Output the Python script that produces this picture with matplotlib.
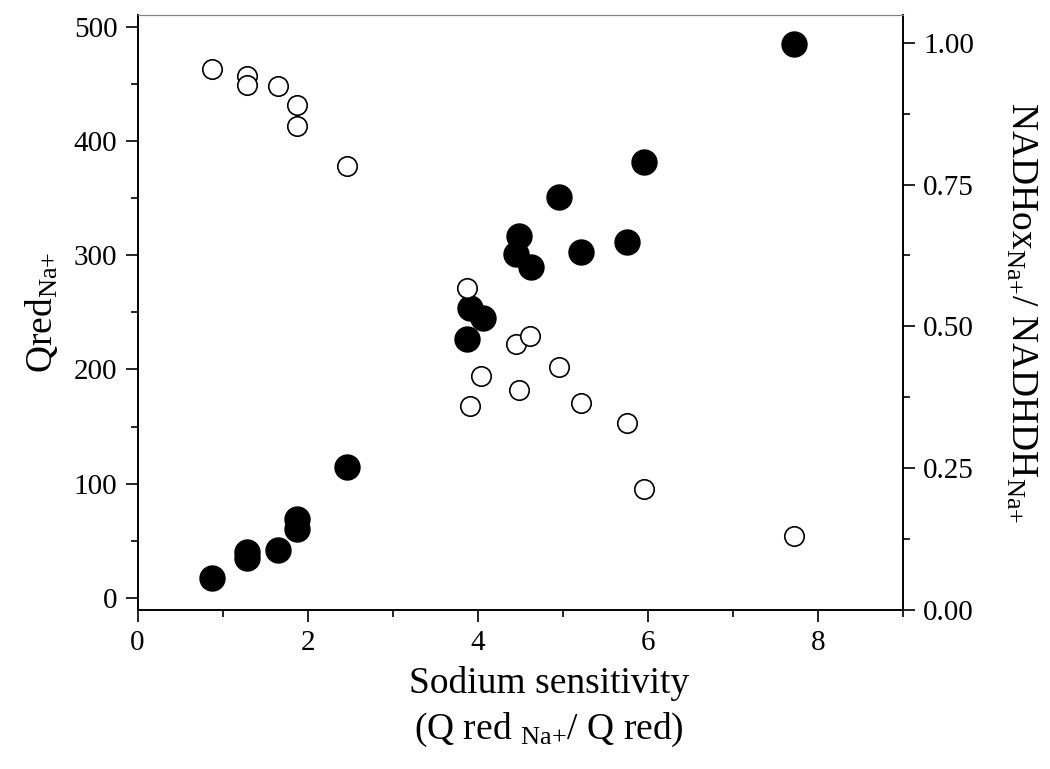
import numpy as np
import matplotlib
matplotlib.use("Agg")
import matplotlib.pyplot as plt
from matplotlib.ticker import MultipleLocator

plt.rcParams['font.family'] = ['Liberation Serif', 'DejaVu Serif']
plt.rcParams['mathtext.fontset'] = 'custom'
plt.rcParams['mathtext.rm'] = 'Liberation Serif'
plt.rcParams['mathtext.it'] = 'Liberation Serif'

# sodium sensitivity (x), shared by both series
sens = [0.88, 1.29, 1.29, 1.65, 1.87, 1.87, 2.46, 3.87, 3.91, 4.06,
        4.45, 4.49, 4.63, 4.95, 5.21, 5.75, 5.95, 7.72]
# Qred Na+ (left axis, filled)
qred = [17, 40, 35, 42, 69, 60, 115, 227, 254, 245,
        301, 317, 290, 351, 303, 312, 382, 485]
# NADHox / NADHDH ratio (right axis, open), same x order
sens_r = [0.88, 1.29, 1.29, 1.65, 1.87, 1.87, 2.46, 3.87, 3.91, 4.04,
          4.45, 4.49, 4.62, 4.95, 5.21, 5.75, 5.95, 7.72]
ratio = [0.954, 0.941, 0.925, 0.924, 0.890, 0.854, 0.783, 0.567, 0.359, 0.412,
         0.469, 0.387, 0.483, 0.428, 0.364, 0.329, 0.213, 0.130]

fig = plt.figure(figsize=(10.5, 7.69), dpi=100)
ax = fig.add_axes([0.131, 0.207, 0.729, 0.7735])
ax2 = ax.twinx()

ax.plot(sens, qred, 'o', color='black', markersize=18, zorder=3)
ax2.plot(sens_r, ratio, 'o', markerfacecolor='white', markeredgecolor='black',
         markersize=14, markeredgewidth=1.2)

ax.set_xlim(0, 9)
ax.set_ylim(-10.5, 510.5)
ax2.set_ylim(0, 1.049)

ax.xaxis.set_major_locator(MultipleLocator(2))
ax.xaxis.set_minor_locator(MultipleLocator(1))
ax.yaxis.set_major_locator(MultipleLocator(100))
ax.yaxis.set_minor_locator(MultipleLocator(50))
ax2.yaxis.set_major_locator(MultipleLocator(0.25))
ax2.yaxis.set_minor_locator(MultipleLocator(0.125))
ax2.yaxis.set_major_formatter(plt.FormatStrFormatter('%.2f'))

for a in (ax, ax2):
    a.tick_params(which='major', direction='out', length=8.5, width=1.2,
                  labelsize=21, pad=6)
    a.tick_params(which='minor', direction='out', length=5, width=1.2)
ax.tick_params(axis='x', which='both', top=False)
ax2.spines['top'].set_color('grey')
ax.spines['top'].set_color('grey')
for s in ('left', 'bottom', 'right'):
    ax.spines[s].set_linewidth(1.2)
    ax2.spines[s].set_linewidth(1.2)

ax.set_xlabel('Sodium sensitivity\n(Q red $_{\\mathrm{Na{+}}}$/ Q red)', fontsize=27,
              linespacing=1.35)
ax.xaxis.set_label_coords(0.537, -0.095, transform=ax.transAxes)
ax.xaxis.label.set_va('top')
ax.set_ylabel('Qred$_{\\mathrm{Na{+}}}$', fontsize=27, labelpad=10)
ax2.set_ylabel('NADHox$_{\\mathrm{Na{+}}}$/ NADHDH$_{\\mathrm{Na{+}}}$', fontsize=27,
               rotation=270, labelpad=46)

fig.savefig('out.png', dpi=100)
